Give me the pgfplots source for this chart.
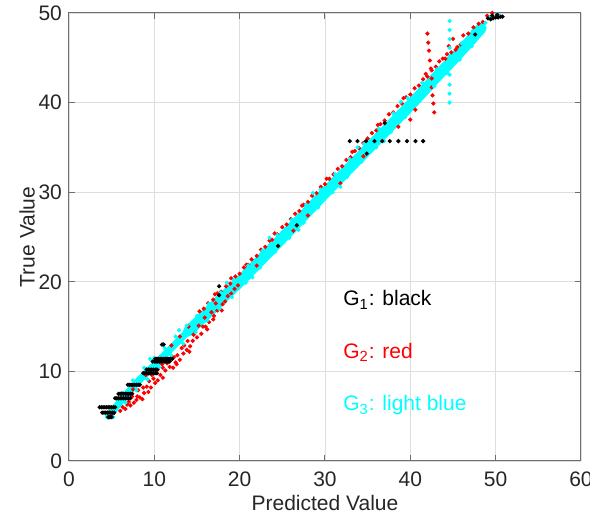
\documentclass[border=0pt]{standalone}
\usepackage{fontspec}
\setmainfont{Liberation Sans}
\usepackage{pgfplots}
\usepackage{pgfplotstable}
\pgfplotsset{compat=1.18}
\definecolor{axgray}{RGB}{110,110,110}
\definecolor{labtext}{RGB}{38,38,38}
\definecolor{gred}{RGB}{255,0,0}
\definecolor{gcyan}{RGB}{0,255,255}

% G1 (black): quantised rows at the low end, a dotted row near 36, a few on the band
\pgfplotstableread{
x y
3.6 6.0
3.8 6.0
4.0 6.0
4.2 6.0
4.4 6.0
4.6 6.0
4.8 6.0
5.0 6.0
5.2 6.0
5.4 6.0
3.9 5.4
4.1 5.4
4.3 5.4
4.5 5.4
4.7 5.4
4.9 5.4
5.1 5.4
5.3 5.4
4.6 4.9
4.8 4.9
5.0 4.9
5.4 7.0
5.6 7.0
5.8 7.0
6.0 7.0
6.2 7.0
6.4 7.0
6.6 7.0
6.8 7.0
7.0 7.0
7.2 7.0
5.8 7.5
6.0 7.5
6.2 7.5
6.4 7.5
6.6 7.5
6.8 7.5
7.0 7.5
7.2 7.5
7.4 7.5
6.9 8.5
7.1 8.5
7.3 8.5
7.5 8.5
7.7 8.5
7.9 8.5
8.1 8.5
8.3 8.5
8.7 9.8
8.9 9.8
9.1 9.8
9.3 9.8
9.5 9.8
9.7 9.8
9.9 9.8
10.1 9.8
10.3 9.8
9.1 10.2
9.3 10.2
9.5 10.2
9.7 10.2
9.9 10.2
10.1 10.2
10.3 10.2
9.8 11.1
10.0 11.1
10.2 11.1
10.4 11.1
10.6 11.1
10.8 11.1
11.0 11.1
11.2 11.1
11.4 11.1
11.6 11.1
11.8 11.1
10.1 11.4
10.3 11.4
10.5 11.4
10.7 11.4
10.9 11.4
11.1 11.4
11.3 11.4
11.5 11.4
11.7 11.4
11.9 11.4
12.1 11.4
10.9 13.0
11.1 13.0
17.6 18.5
17.6 19.5
24.5 24.0
26.7 26.3
34.9 34.3
37.0 37.7
32.9 35.7
33.8 35.7
34.8 35.7
35.8 35.7
36.7 35.7
37.6 35.7
38.6 35.7
39.6 35.7
40.6 35.7
41.5 35.7
47.6 47.6
49.1 49.4
49.4 49.3
49.7 49.4
50.0 49.5
50.3 49.5
50.6 49.6
50.8 49.6
49.6 49.7
50.2 49.8
}\gone

% G2 (red)
\pgfplotstableread{
x y
4.8 4.9
5.1 5.2
6.0 5.6
6.3 6.0
6.6 5.8
6.8 6.3
7.2 6.2
7.0 6.6
7.4 7.2
7.6 6.5
7.9 6.8
8.0 7.2
8.1 7.9
8.3 7.1
8.6 6.9
8.7 8.2
8.8 7.6
9.3 7.7
9.1 8.3
9.4 8.9
9.6 8.2
9.7 9.6
10.1 8.7
9.9 9.2
10.4 9.0
10.4 10.2
10.7 9.6
10.9 10.8
11.0 9.3
11.0 10.4
11.3 10.1
11.8 10.5
11.5 10.9
11.9 11.4
12.2 10.4
12.3 11.6
12.5 11.0
12.6 10.8
13.0 11.3
12.7 11.8
13.2 12.6
13.4 12.0
13.8 12.4
13.5 12.9
13.9 13.4
14.2 12.8
14.1 12.2
14.5 13.4
14.6 14.1
15.0 13.8
14.8 14.4
15.5 14.2
15.2 15.1
15.7 15.0
16.0 15.0
16.2 14.7
15.9 16.0
16.4 15.5
16.7 16.6
16.9 15.8
17.0 16.2
17.2 17.6
17.4 16.8
17.9 16.8
18.0 17.5
18.3 17.8
18.6 18.4
19.0 18.7
19.4 19.2
19.8 19.6
7.5 8.0
9.0 9.6
10.5 11.2
12.0 12.9
13.0 13.9
14.0 15.0
15.3 16.7
15.8 17.0
16.3 17.6
16.9 18.0
17.1 18.6
17.4 18.7
17.8 18.9
18.4 19.5
18.9 19.8
19.0 20.4
19.5 20.6
20.0 20.9
20.5 21.6
20.8 21.9
21.0 21.9
21.4 22.5
22.0 22.9
22.5 23.6
23.0 23.9
23.5 24.6
23.8 24.7
24.1 25.4
24.4 25.3
25.0 26.1
25.5 26.4
26.0 27.0
26.5 27.6
27.0 27.9
27.3 28.5
27.5 28.6
28.0 28.9
28.5 29.6
29.0 29.9
29.5 30.6
30.0 30.9
30.2 31.5
30.5 31.5
31.0 32.0
31.5 32.6
32.0 32.9
32.5 33.6
33.0 33.9
33.2 34.5
33.5 34.6
34.0 34.9
34.5 35.5
35.0 36.0
35.5 36.6
36.0 36.9
36.2 37.5
36.5 37.6
37.0 38.0
37.5 38.7
38.0 38.9
38.5 39.6
39.0 39.9
39.2 40.5
39.5 40.6
40.0 40.9
40.5 41.6
41.0 41.9
41.5 42.6
41.8 43.2
42.0 42.9
42.5 43.6
43.0 44.0
43.4 44.6
43.8 44.9
44.3 45.4
44.5 46.3
45.0 47.1
45.3 45.9
45.9 46.5
46.2 47.5
46.8 47.7
47.4 48.4
48.0 48.8
48.5 49.0
49.0 49.7
49.6 50.0
44.8 45.6
45.5 46.2
44.1 44.9
38.6 37.3
40.0 38.1
40.6 39.2
34.5 34.0
22.0 21.8
26.3 25.7
28.0 27.4
31.8 31.0
42.0 47.7
42.1 46.7
42.2 45.8
42.3 44.7
42.4 43.8
42.5 42.7
42.5 41.7
42.6 40.8
42.7 39.9
42.8 38.9
}\gtwo

% G3 (light blue): dense core of the band
\pgfplotstableread{
x y
4.6 5.0
6.0 6.6
8.0 8.8
10.0 10.7
12.0 12.6
14.0 14.5
}\gthreelow
\pgfplotstableread{
x y
14.0 14.5
16.0 16.3
18.0 18.2
20.0 20.0
25.0 24.9
30.0 29.9
35.0 34.8
40.0 39.7
43.0 42.8
45.0 44.8
47.0 46.9
48.3 48.3
}\gthreecore
% G3 points on the edges of the band and off it
\pgfplotstableread{
x y
6.2 7.6
7.5 9.0
8.8 10.4
9.5 11.4
10.0 11.5
11.2 12.6
12.5 13.9
12.9 14.6
13.8 15.1
15.0 16.2
16.4 17.5
17.8 18.8
18.5 19.9
19.3 20.2
21.0 21.8
22.7 23.5
23.5 24.9
24.4 25.2
26.1 26.9
27.8 28.6
28.6 29.9
29.5 30.3
31.2 32.0
32.9 33.7
33.8 35.0
34.6 35.4
36.3 37.1
38.0 38.8
38.9 40.1
39.7 40.5
41.4 42.2
43.1 43.7
44.6 45.2
46.0 46.6
47.3 48.0
5.2 4.9
6.6 6.5
7.9 7.9
9.2 9.1
10.6 10.5
12.0 11.8
13.4 13.1
14.8 14.4
16.2 15.7
17.6 17.0
19.1 18.3
20.7 19.9
21.5 20.5
22.4 21.6
24.1 23.3
25.8 24.9
26.9 25.8
27.5 26.6
29.2 28.3
30.9 30.0
31.8 30.6
32.6 31.7
34.3 33.4
36.0 35.0
36.9 35.7
37.7 36.7
39.4 38.4
41.1 40.2
42.8 41.8
44.3 43.3
45.8 44.8
47.2 46.3
48.0 48.0
48.8 48.9
49.4 49.6
50.2 49.9
50.4 50.2
44.6 40.0
44.6 41.0
44.6 42.0
44.6 43.1
44.6 44.1
44.6 45.0
44.6 46.1
44.6 47.1
44.6 48.1
44.6 49.1
}\gthree

\begin{document}
\begin{tikzpicture}
\begin{axis}[
    scale only axis,
    width=256pt, height=224pt,
    xmin=0, xmax=60, ymin=0, ymax=50,
    xtick={0,10,...,60}, ytick={0,10,...,50},
    grid=major,
    grid style={black!13, line width=0.4pt},
    axis line style={axgray, line width=0.5pt},
    tick style={axgray, line width=0.5pt},
    major tick length=3pt,
    tick align=inside,
    /pgf/number format/assume math mode=true,
    tick label style={font=\fontsize{10.5}{12}\selectfont, text=labtext},
    xticklabel style={yshift=-2pt},
    xlabel={Predicted Value}, ylabel={True Value},
    label style={font=\fontsize{10.5}{12}\selectfont, text=labtext},
    xlabel style={at={(axis description cs:0.5,-0.094)}, anchor=center},
    ylabel style={at={(axis description cs:-0.082,0.5)}, anchor=center},
]
\addplot[only marks, mark=*, mark size=0.85pt, gred] table {\gtwo};
\addplot[gcyan, line width=3.5pt, line cap=round, line join=round] table {\gthreelow};
\addplot[gcyan, line width=5.5pt, line cap=round, line join=round] table {\gthreecore};
\addplot[only marks, mark=*, mark size=0.85pt, gcyan] table {\gthree};
\addplot[only marks, mark=*, mark size=0.85pt, black] table {\gone};

\node[anchor=base west, inner sep=0pt, font=\fontsize{10.5}{12}\selectfont, text=black] at (axis cs:32.1,17.3) {G\textsubscript{1}: black};
\node[anchor=base west, inner sep=0pt, font=\fontsize{10.5}{12}\selectfont, text=gred] at (axis cs:32.1,11.45) {G\textsubscript{2}: red};
\node[anchor=base west, inner sep=0pt, font=\fontsize{10.5}{12}\selectfont, text=gcyan] at (axis cs:32.1,5.6) {G\textsubscript{3}: light blue};
\end{axis}
\pgfresetboundingbox
\path[use as bounding box] ([xshift=-34.5pt,yshift=-29pt]current axis.south west) rectangle ([xshift=4.5pt,yshift=6.5pt]current axis.north east);
\end{tikzpicture}
\end{document}
